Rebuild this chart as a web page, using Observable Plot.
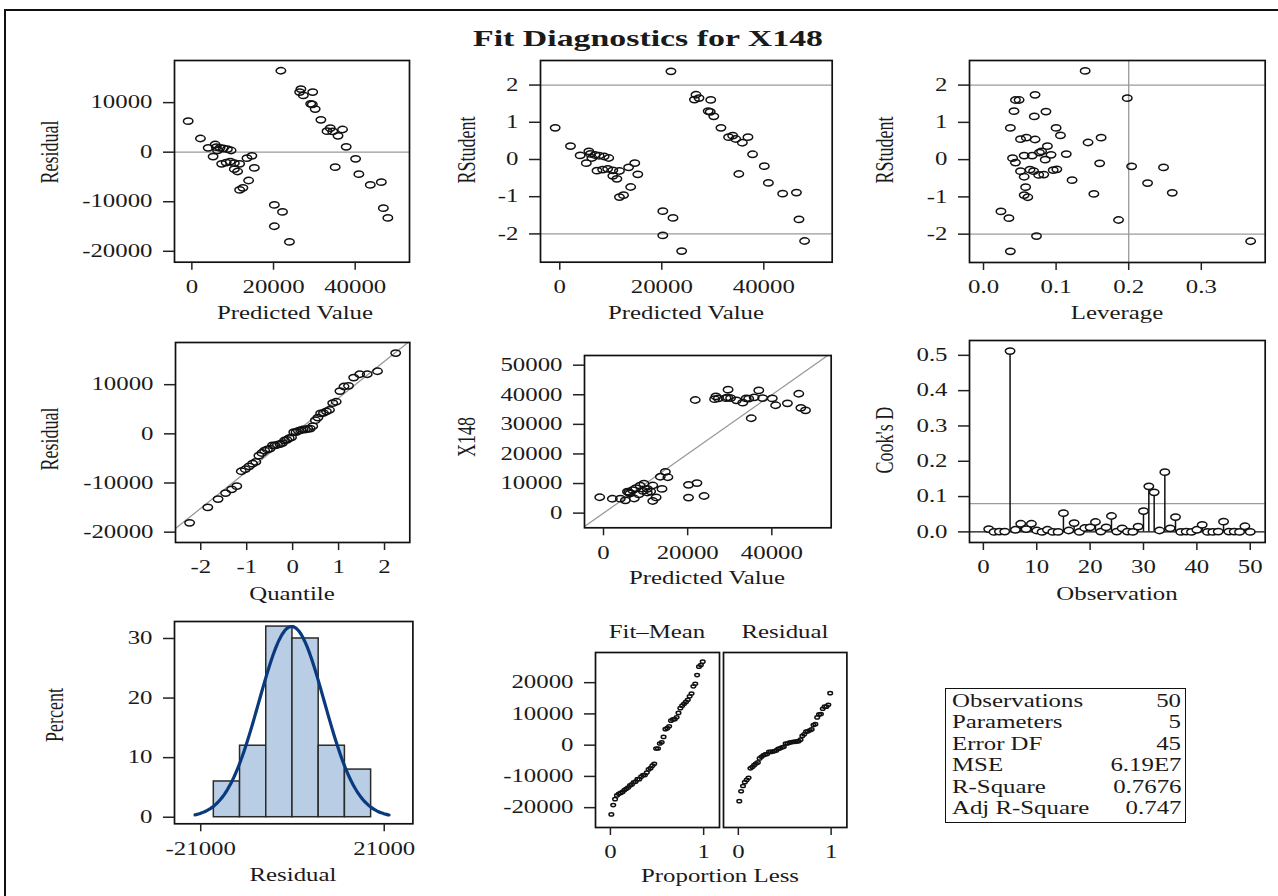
<!DOCTYPE html>
<html><head><meta charset="utf-8">
<script src="https://cdn.jsdelivr.net/npm/d3@7"></script>
<script src="https://cdn.jsdelivr.net/npm/@observablehq/plot@0.6"></script>
<style>
html,body{margin:0;padding:0;background:#fff;overflow:hidden;}
#root{position:relative;width:1278px;height:896px;overflow:hidden;font-family:'Liberation Serif','Times New Roman',serif;color:#1a1a1a;background:#fff;}
.border{position:absolute;left:4px;top:9px;width:1300px;height:900px;border-left:2px solid #111;border-top:2px solid #111;}
.lbl{position:absolute;white-space:nowrap;line-height:1;font-size:18px;}
.box{position:absolute;border:1.5px solid #111;}
</style></head>
<body><div id="root"><div class="border"></div></div>
<script>
// ---------- data ----------
const predicted = [-900,2100,4000,5700,6000,5200,6900,7700,6300,9600,7300,8400,9400,10400,11700,10400,11200,13500,14700,15300,13900,11700,12500,20200,22200,20200,23900,21800,26700,26400,27300,29600,29100,29500,30200,31600,33100,33900,34500,35800,36900,35100,37800,40100,40900,43700,46400,46900,48000,8700];
const residual = [6260,2760,880,1550,1010,-880,880,740,340,340,-2360,-2090,-1890,-2220,-2360,-3430,-3900,-1210,-740,-3170,-5720,-7610,-7200,-10640,-12050,-14950,-18110,16430,12730,12120,11450,12120,9760,9630,8690,6530,4240,4850,4180,3300,4580,-3030,1080,-1350,-4440,-6600,-6060,-11310,-13270,610];
const rstudent = [0.85,0.36,0.11,0.22,0.15,-0.10,0.12,0.10,0.04,0.04,-0.30,-0.27,-0.25,-0.29,-0.31,-0.44,-0.52,-0.21,-0.10,-0.40,-0.74,-1.01,-0.96,-1.39,-1.57,-2.04,-2.46,2.37,1.74,1.61,1.65,1.60,1.30,1.28,1.16,0.85,0.60,0.64,0.55,0.45,0.60,-0.39,0.14,-0.18,-0.63,-0.92,-0.89,-1.61,-2.19,0.08];
const leverage = [0.140,0.198,0.044,0.049,0.071,0.042,0.070,0.086,0.037,0.100,0.106,0.051,0.059,0.071,0.144,0.162,0.088,0.080,0.077,0.093,0.114,0.056,0.067,0.040,0.044,0.085,0.160,0.204,0.248,0.051,0.064,0.069,0.056,0.076,0.083,0.096,0.101,0.122,0.226,0.058,0.056,0.061,0.152,0.260,0.024,0.035,0.186,0.073,0.037,0.368];
const rstudentByLeverage = [2.38,1.65,1.60,1.60,1.74,1.30,1.16,1.29,0.85,0.85,0.65,0.55,0.59,0.54,0.46,0.59,0.36,0.22,0.19,0.13,0.15,0.11,0.11,0.04,-0.08,0.00,-0.10,-0.18,-0.21,-0.31,-0.27,-0.31,-0.46,-0.41,-0.40,-0.28,-0.26,-0.55,-0.63,-0.74,-0.95,-1.01,-0.92,-0.89,-1.39,-1.57,-1.62,-2.05,-2.46,-2.19];
const cooksD = [0.008,0,0.001,0.001,0.512,0.006,0.023,0.008,0.023,0.004,0,0.006,0,0,0.053,0.004,0.025,0,0.011,0.013,0.028,0.001,0.013,0.045,0.001,0.010,0.001,0,0.015,0.059,0.129,0.112,0.004,0.169,0.010,0.042,0,0.001,0,0.006,0.020,0,0,0.001,0.029,0.001,0.001,0,0.016,0];
const histLow = [-18000,-12000,-6000,0,6000,12000];
const histHigh = [-12000,-6000,0,6000,12000,18000];
const histPercent = [6,12,32,30,12,8];
const rstudentCutoffs = [-2,2];
const leverageCutoff = [0.2];
const cooksCutoff = [0.08];
const statLabels = ["Observations","Parameters","Error DF","MSE","R-Square","Adj R-Square"];
const statValues = ["50","5","45","6.19E7","0.7676","0.747"];
const facetTitles = ["Fit\u2013Mean","Residual"];

// ---------- helpers ----------
const root = document.getElementById("root");
const K = 1.38;
const FONT = "'Liberation Serif','Times New Roman',serif";
const ell = (sx) => ({draw(ctx, size){const r=Math.sqrt(size/Math.PI),rx=r*sx,ry=r,k=0.5523;
  ctx.moveTo(rx,0);ctx.bezierCurveTo(rx,ry*k,rx*k,ry,0,ry);ctx.bezierCurveTo(-rx*k,ry,-rx,ry*k,-rx,0);
  ctx.bezierCurveTo(-rx,-ry*k,-rx*k,-ry,0,-ry);ctx.bezierCurveTo(rx*k,-ry,rx,-ry*k,rx,0);ctx.closePath();}});
const ELL = ell(1.5);
const numFmt = d => String(d);
const f1 = d3.format(".1f");

function stretch(svg){
  svg.querySelectorAll("text").forEach(t=>{
    const tr = t.getAttribute("transform")||"";
    if (tr.includes("rotate")) return;
    const sp = t.querySelectorAll("tspan");
    const targets = sp.length ? Array.from(sp) : [t];
    targets.forEach(el=>{const L=el.getComputedTextLength(); if(L>0){el.setAttribute("textLength",L*K);el.setAttribute("lengthAdjust","spacingAndGlyphs");}});
  });
}

function panel(o){
  const [x0,y0,x1,y1] = o.frame;
  const mL=o.mL??110, mR=o.mR??14, mT=o.mT??10, mB=o.mB??44;
  const marks=[...o.marks, Plot.frame({stroke:"#111",strokeWidth:1.7})];
  if(o.xTicks) marks.push(Plot.axisX({ticks:o.xTicks,tickFormat:o.xFormat||numFmt,tickSize:8,tickPadding:10,label:null,stroke:"#222",strokeWidth:1.5}));
  if(o.yTicks) marks.push(Plot.axisY({ticks:o.yTicks,tickFormat:o.yFormat||numFmt,tickSize:11,tickPadding:11,label:null,stroke:"#222",strokeWidth:1.5}));
  const svg = Plot.plot({
    width:(x1-x0)+mL+mR, height:(y1-y0)+mT+mB,
    marginLeft:mL, marginRight:mR, marginTop:mT, marginBottom:mB,
    x:{domain:o.xDomain, axis:o.xTicks?undefined:null},
    y:{domain:o.yDomain, axis:o.yTicks?undefined:null},
    style:{fontFamily:FONT,fontSize:"18px",color:"#1a1a1a",background:"transparent",overflow:"visible"},
    marks
  });
  svg.style.position="absolute"; svg.style.left=(x0-mL)+"px"; svg.style.top=(y0-mT)+"px";
  root.append(svg); stretch(svg);
}

function label(text,cx,cy,opts={}){
  const d=document.createElement("div"); d.className="lbl"; d.textContent=text;
  d.style.fontSize=(opts.size||18)+"px"; if(opts.bold) d.style.fontWeight="bold";
  const k = opts.k||K;
  if(opts.anchor==="start"){d.style.left=cx+"px";d.style.top=cy+"px";d.style.transformOrigin="left center";d.style.transform=`translate(0,-50%) scaleX(${k})`;}
  else if(opts.anchor==="end"){d.style.right=(1278-cx)+"px";d.style.top=cy+"px";d.style.transformOrigin="right center";d.style.transform=`translate(0,-50%) scaleX(${k})`;}
  else {d.style.left=cx+"px";d.style.top=cy+"px";d.style.transform=opts.rotate?`translate(-50%,-50%) rotate(-90deg) scaleY(${k})`:`translate(-50%,-50%) scaleX(${k})`;}
  root.append(d);
}

// inverse normal CDF (Acklam) for the Q-Q plot quantiles
function qnorm(p){
  const a=[-3.969683028665376e+01,2.209460984245205e+02,-2.759285104469687e+02,1.383577518672690e+02,-3.066479806614716e+01,2.506628277459239e+00];
  const b=[-5.447609879822406e+01,1.615858368580409e+02,-1.556989798598866e+02,6.680131188771972e+01,-1.328068155288572e+01];
  const c=[-7.784894002430293e-03,-3.223964580411365e-01,-2.400758277161838e+00,-2.549671039863613e+00,4.374664141464968e+00,2.938163982698783e+00];
  const d=[7.784695709041462e-03,3.224671290700398e-01,2.445134137142996e+00,3.754408661907416e+00];
  const pl=0.02425; let q,r;
  if(p<pl){q=Math.sqrt(-2*Math.log(p));return (((((c[0]*q+c[1])*q+c[2])*q+c[3])*q+c[4])*q+c[5])/((((d[0]*q+d[1])*q+d[2])*q+d[3])*q+1);}
  if(p>1-pl){q=Math.sqrt(-2*Math.log(1-p));return -(((((c[0]*q+c[1])*q+c[2])*q+c[3])*q+c[4])*q+c[5])/((((d[0]*q+d[1])*q+d[2])*q+d[3])*q+1);}
  q=p-0.5;r=q*q;return (((((a[0]*r+a[1])*r+a[2])*r+a[3])*r+a[4])*r+a[5])*q/(((((b[0]*r+b[1])*r+b[2])*r+b[3])*r+b[4])*r+1);
}

// ---------- derived tables ----------
const n = predicted.length;
const obs = predicted.map((p,i)=>({pred:p,resid:residual[i],rstud:rstudent[i],actual:p+residual[i]}));
const levData = leverage.map((h,i)=>({h,r:rstudentByLeverage[i]}));
const cookData = cooksD.map((v,i)=>({obs:i+1,d:v}));
const rMean = d3.mean(residual), rSd = d3.deviation(residual);
const sortedRes = residual.slice().sort(d3.ascending);
const qq = sortedRes.map((r,i)=>({q:qnorm((i+1-0.375)/(n+0.25)),r}));
const qDom = [-2.55,2.55];
const qqLine = qDom.map(q=>({q,r:rMean+rSd*q}));
const hist = histLow.map((lo,i)=>({lo,hi:histHigh[i],pct:histPercent[i]}));
const binW = histHigh[0]-histLow[0];
const curveX = d3.range(-22300,22301,400);
const curve = curveX.map(x=>({x,y:100*binW*Math.exp(-0.5*((x-rMean)/rSd)**2)/(rSd*Math.sqrt(2*Math.PI))}));
const pMean = d3.mean(predicted);
const fitSorted = predicted.map(p=>p-pMean).sort(d3.ascending).map((v,i)=>({p:(i+0.5)/n,v}));
const resSorted = sortedRes.map((v,i)=>({p:(i+0.5)/n,v:v-rMean}));
const p5Dom = [-4955,54100];
const diag = p5Dom.map(v=>({x:v,y:v}));

const dotOpts = {r:3.15,symbol:ELL,stroke:"#111",strokeWidth:1.5,fill:"none"};
const grey = {stroke:"#9a9a9a",strokeWidth:1.3};

// ---------- Title ----------
label("Fit Diagnostics for X148",648,38,{size:24,bold:true,k:1.41});

// ---------- Row 1 ----------
panel({frame:[174.3,60,409.3,261.7],xDomain:[-4250,53300],yDomain:[-22200,18500],
  xTicks:[0,20000,40000],yTicks:[-20000,-10000,0,10000],
  marks:[Plot.ruleY([0],grey),Plot.dot(obs,{x:"pred",y:"resid",...dotOpts})]});
panel({frame:[540,60,831.7,261.7],xDomain:[-3780,53410],yDomain:[-2.76,2.66],
  xTicks:[0,20000,40000],yTicks:[-2,-1,0,1,2],
  marks:[Plot.ruleY(rstudentCutoffs,grey),Plot.dot(obs,{x:"pred",y:"rstud",...dotOpts})]});
panel({frame:[969.3,60,1265,262],xDomain:[-0.0193,0.388],yDomain:[-2.76,2.66],
  xTicks:[0,0.1,0.2,0.3],xFormat:f1,yTicks:[-2,-1,0,1,2],
  marks:[Plot.ruleY(rstudentCutoffs,grey),Plot.ruleX(leverageCutoff,grey),Plot.dot(levData,{x:"h",y:"r",...dotOpts})]});

// ---------- Row 2 ----------
panel({frame:[175,341.7,409.3,541.7],xDomain:qDom,yDomain:[-22100,18580],
  xTicks:[-2,-1,0,1,2],yTicks:[-20000,-10000,0,10000],
  marks:[Plot.line(qqLine,{x:"q",y:"r",...grey,clip:true}),Plot.dot(qq,{x:"q",y:"r",...dotOpts})]});
panel({frame:[584.3,355,831,527.3],xDomain:[-4515,54100],yDomain:[-4955,53270],
  xTicks:[0,20000,40000],yTicks:[0,10000,20000,30000,40000,50000],
  marks:[Plot.line(diag,{x:"x",y:"y",...grey,clip:true}),Plot.dot(obs,{x:"pred",y:"actual",...dotOpts})]});
panel({frame:[969.3,340,1265,542],xDomain:[-2.6,52.8],yDomain:[-0.030,0.542],
  xTicks:[0,10,20,30,40,50],yTicks:[0,0.1,0.2,0.3,0.4,0.5],yFormat:f1,
  marks:[Plot.ruleY(cooksCutoff,grey),Plot.ruleY([0],{stroke:"#111",strokeWidth:1.3}),
    Plot.ruleX(cookData,{x:"obs",y1:0,y2:"d",stroke:"#111",strokeWidth:1.5}),
    Plot.dot(cookData,{x:"obs",y:"d",...dotOpts,fill:"#fff"})]});

// ---------- Row 3 ----------
panel({frame:[174.3,621,412.7,823.3],xDomain:[-27000,27560],yDomain:[-1.1,32.85],
  xTicks:[-21000,21000],yTicks:[0,10,20,30],
  marks:[Plot.rect(hist,{x1:"lo",x2:"hi",y1:()=>0,y2:"pct",fill:"#b9cde5",stroke:"#2a2a2a",strokeWidth:1.5}),
    Plot.line(curve,{x:"x",y:"y",stroke:"#0a3a7e",strokeWidth:3.2,curve:"basis"})]});
const smallDot = {r:1.6,symbol:ell(1.45),stroke:"#111",strokeWidth:1.5,fill:"none"};
panel({frame:[595,651.7,719,826.7],xDomain:[-0.16,1.17],yDomain:[-26350,29650],mR:2,
  xTicks:[0,1],yTicks:[-20000,-10000,0,10000,20000],
  marks:[Plot.dot(fitSorted,{x:"p",y:"v",...smallDot})]});
panel({frame:[723.3,651.7,846.7,826.7],xDomain:[-0.16,1.17],yDomain:[-26350,29650],mL:2,
  xTicks:[0,1],
  marks:[Plot.dot(resSorted,{x:"p",y:"v",...smallDot})]});

// ---------- axis labels ----------
label("Predicted Value",295,313); label("Predicted Value",686,313); label("Leverage",1117,313);
label("Residual",50,152,{rotate:true}); label("RStudent",467,150,{rotate:true}); label("RStudent",885,150,{rotate:true});
label("Quantile",292,594); label("Predicted Value",707,578); label("Observation",1117,594);
label("Residual",50,439,{rotate:true}); label("X148",467,437,{rotate:true}); label("Cook's D",885,440,{rotate:true});
label("Residual",293,875); label("Proportion Less",720,876); label("Percent",55,715,{rotate:true});
label(facetTitles[0],657,632); label(facetTitles[1],785,632);

// ---------- statistics table ----------
const box=document.createElement("div"); box.className="box";
Object.assign(box.style,{left:"945px",top:"688px",width:"239px",height:"133px"}); root.append(box);
statLabels.forEach((s,i)=>{const cy=701+i*21.4; label(s,952,cy,{anchor:"start"}); label(statValues[i],1181,cy,{anchor:"end"});});
</script></body></html>
